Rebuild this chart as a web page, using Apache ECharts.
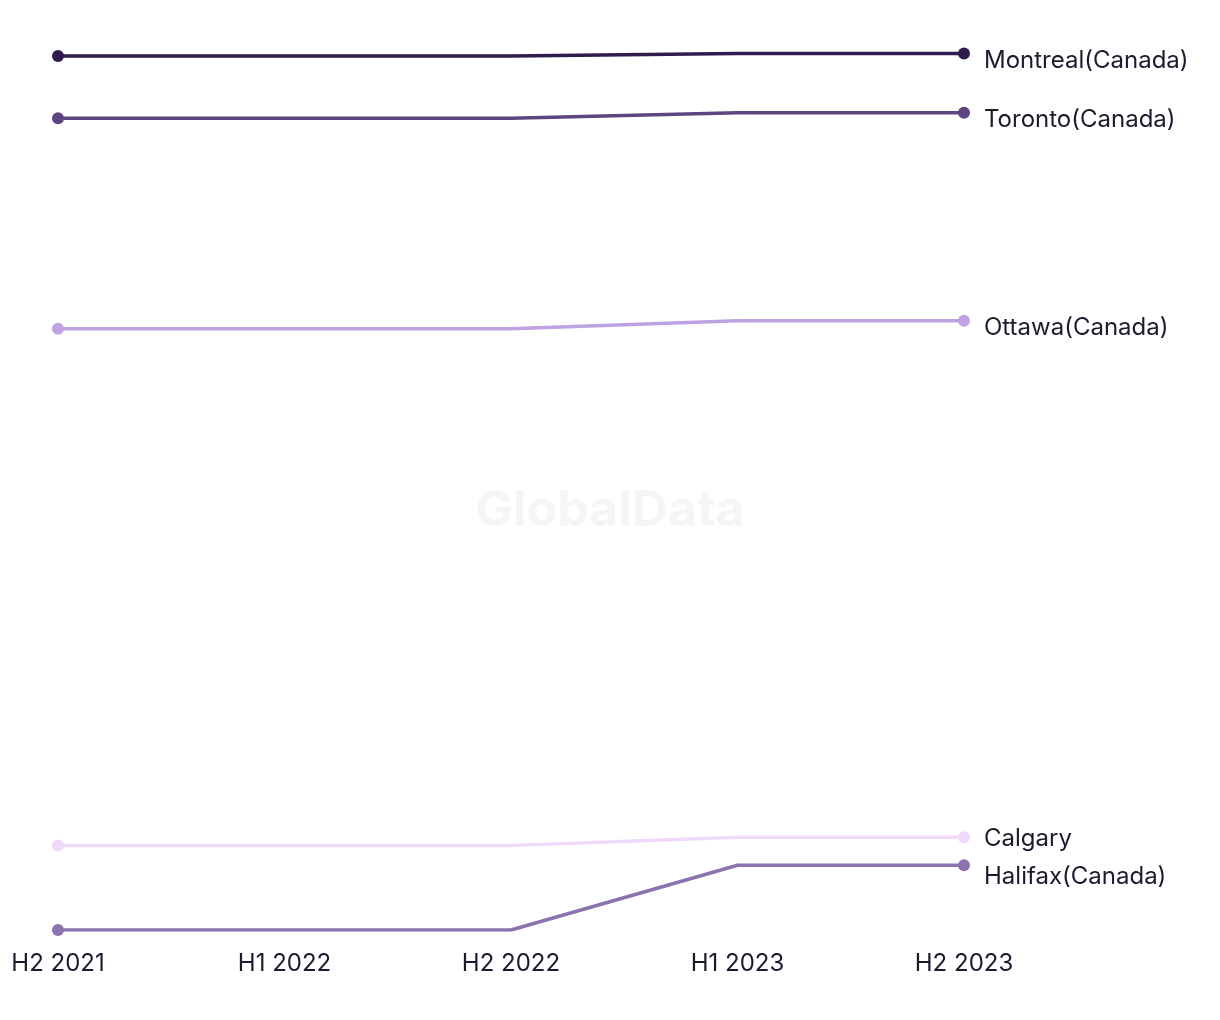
<!DOCTYPE html>
<html><head><meta charset="utf-8">
<script src="https://cdn.jsdelivr.net/npm/echarts@6/dist/echarts.min.js"></script>
<style>html,body{margin:0;padding:0;background:#fff}#c{width:1220px;height:1020px}</style>
</head><body><div id="c"></div>
<script>
const categories = ['H2 2021','H1 2022','H2 2022','H1 2023','H2 2023'];
const seriesNames = ['Montreal(Canada)','Toronto(Canada)','Ottawa(Canada)','Calgary','Halifax(Canada)'];
const montreal = [97.1, 97.1, 97.1, 97.4, 97.4];
const toronto  = [90.2, 90.2, 90.2, 90.8, 90.8];
const ottawa   = [66.8, 66.8, 66.8, 67.7, 67.7];
const calgary  = [9.4, 9.4, 9.4, 10.3, 10.3];
const halifax  = [0, 0, 0, 7.2, 7.2];
const colors = ['#2f1b4d','#5c4580','#bea2e2','#f0d9fb','#8c73b0'];
const allValues = [montreal, toronto, ottawa, calgary, halifax];

const textColor = '#1b1a2e';
const font = 'Inter';
// label vertical nudges (styling, to keep the two close labels apart)
const labelNudge = {'Calgary': 1, 'Halifax(Canada)': 12};

function buildData(vals){
  return vals.map((v,i)=>{
    const last = i === vals.length-1;
    const first = i === 0;
    return {
      value: v,
      symbolSize: (first||last) ? 12 : 0,
      label: last ? {show:true} : {show:false}
    };
  });
}

const series = allValues.map((vals,k)=>{
  const name = seriesNames[k];
  const dy = (name in labelNudge) ? labelNudge[name] : 7;
  return {
    name: name,
    type: 'line',
    data: buildData(vals),
    symbol: 'circle',
    showSymbol: true,
    showAllSymbol: true,
    smooth: false,
    lineStyle: {width: 3.5, color: colors[k]},
    itemStyle: {color: colors[k]},
    z: 10-k,
    label: {
      position: 'right',
      distance: 14,
      formatter: name,
      color: textColor,
      fontFamily: font,
      fontSize: 24
    },
    labelLine: {show: false},
    labelLayout: function(){ return {dy: dy}; }
  };
});

const chart = echarts.init(document.getElementById('c'), null, {renderer:'canvas'});
chart.setOption({
  animation: false,
  backgroundColor: '#ffffff',
  graphic: [{
    type: 'text',
    left: 'center',
    top: 486,
    style: {text: 'GlobalData', fontSize: 50, fontWeight: 'bold', fontFamily: font, fill: '#f5f5f5'},
    z: 0
  }],
  grid: {left: 58, right: 256, top: 30, bottom: 90, containLabel: false},
  xAxis: {
    type: 'category',
    data: categories,
    boundaryGap: false,
    axisLine: {show: false},
    axisTick: {show: false},
    splitLine: {show: false},
    axisLabel: {color: textColor, fontFamily: font, fontSize: 24, margin: 22}
  },
  yAxis: {
    type: 'value',
    min: 0,
    max: 100,
    show: false,
    splitLine: {show: false}
  },
  series: series
});
</script>
</body></html>
